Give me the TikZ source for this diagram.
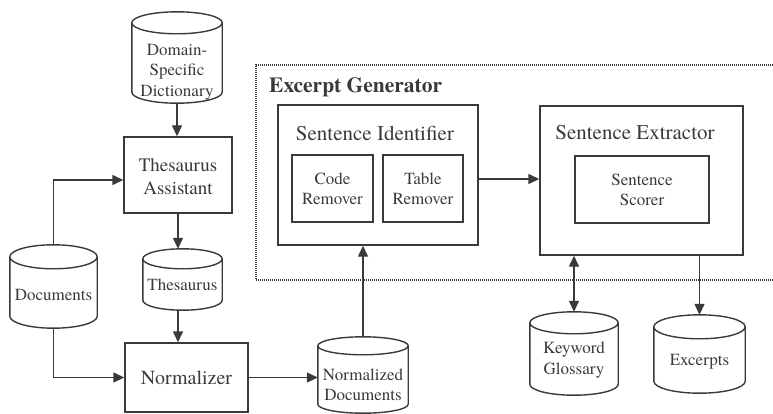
\documentclass[tikz,border=0pt]{standalone}
\usepackage{fontspec}
\setmainfont{TeX Gyre Termes}
\usetikzlibrary{arrows.meta,calc}
\definecolor{ink}{HTML}{3A3A3A}
\newcommand\cylout[2]{%
  \draw[cylline] let \p1=(#1.north west), \p2=(#1.south east), \n1={(\x2-\x1)/2} in
    (\x1,{\y1-#2}) arc[start angle=180,end angle=-180,x radius={\n1*1pt},y radius=#2]
    (\x1,{\y1-#2}) -- (\x1,{\y2+#2}) arc[start angle=180,end angle=360,x radius={\n1*1pt},y radius=#2] -- (\x2,{\y1-#2});}
\begin{document}
\begin{tikzpicture}[x=1pt,y=-1pt,
  box/.style={draw=ink, line width=1.4pt, rectangle, inner sep=0pt},
  hole/.style={rectangle, inner sep=0pt, draw=none},
  cylline/.style={draw=ink, line width=1.4pt},
  txt/.style={text=ink, align=center, font=\fontsize{17}{20.5}\selectfont, inner sep=0pt},
  big/.style={text=ink, align=center, font=\fontsize{19}{23}\selectfont, inner sep=0pt},
  ttl/.style={text=ink, align=center, font=\fontsize{21}{24}\selectfont, inner sep=0pt},
  arr/.style={draw=ink, line width=1.4pt, -{Triangle[length=11pt,width=10pt]}},
  darr/.style={draw=ink, line width=1.4pt, {Triangle[length=11pt,width=10pt]}-{Triangle[length=11pt,width=10pt]}}]
\useasboundingbox (0,0) rectangle (773,414);

% excerpt generator (dotted, open to the right)
\coordinate (egtr) at (773,65);
\coordinate (egbr) at (773,280);
\draw[draw=ink, line width=2pt, dash pattern=on 1pt off 1pt] (egtr) -- (256,65) -- (256,280) -- (egbr);
\node[text=ink, font=\fontsize{21.5}{24}\selectfont\bfseries, anchor=west, inner sep=0pt] (egT) at (269,87) {Excerpt Generator};

% boxes
\node[box, minimum width=108pt, minimum height=76pt] (tass) at (178,175) {};
\node[big] (tassT) at (178,176.5) {Thesaurus\\Assistant};
\node[box, minimum width=123pt, minimum height=69pt] (norm) at (186.5,377.5) {};
\node[big, font=\fontsize{20}{23}\selectfont] (normT) at (186.5,378) {Normalizer};

\node[box, minimum width=200pt, minimum height=140pt] (sid) at (378,175) {};
\node[ttl] (sidT) at (375,133) {Sentence Identifier};
\node[box, minimum width=81pt, minimum height=67pt] (code) at (332.5,188.5) {};
\node[txt] (codeT) at (332.5,189) {Code\\Remover};
\node[box, minimum width=80pt, minimum height=67pt] (table) at (423,188.5) {};
\node[txt] (tableT) at (423,189) {Table\\Remover};

\node[box, minimum width=203pt, minimum height=149pt] (sext) at (641.5,180.5) {};
\node[ttl] (sextT) at (635,133) {Sentence Extractor};
\node[box, minimum width=134pt, minimum height=67pt] (scor) at (642,189.5) {};
\node[txt] (scorT) at (642,190) {Sentence\\Scorer};

% cylinders
\node[hole, minimum width=90pt, minimum height=91pt] (dict) at (177,57.5) {};
\cylout{dict}{11pt}
\node[txt] (dictT) at (177,72) {Domain-\\Specific\\Dictionary};

\node[hole, minimum width=87pt, minimum height=83pt] (docs) at (53.5,286.5) {};
\cylout{docs}{12pt}
\node[txt] (docsT) at (53.5,295) {Documents};

\node[hole, minimum width=79pt, minimum height=61pt] (thes) at (182.5,279.5) {};
\cylout{thes}{10pt}
\node[txt] (thesT) at (182.5,285) {Thesaurus};

\node[hole, minimum width=90pt, minimum height=76pt] (ndoc) at (363,375) {};
\cylout{ndoc}{9pt}
\node[txt] (ndocT) at (363,385) {Normalized\\Documents};

\node[hole, minimum width=88pt, minimum height=83pt] (kw) at (574,353.5) {};
\cylout{kw}{11pt}
\node[txt] (kwT) at (574,360) {Keyword\\Glossary};

\node[hole, minimum width=91pt, minimum height=78pt] (exc) at (699.5,354) {};
\cylout{exc}{12pt}
\node[txt] (excT) at (699.5,362) {Excerpts};

% connectors
\draw[arr] (dict.south) -- (dict.south |- tass.north);
\draw[arr] (docs.north) |- ([yshift=-5pt]tass.west);
\draw[arr] (tass.south) -- (tass.south |- thes.north);
\draw[arr] (tass.south |- thes.south) -- (tass.south |- norm.north);
\draw[arr] (docs.south) |- (norm.west);
\draw[arr] (norm.east) -- (norm.east -| ndoc.west);
\draw[arr] (ndoc.north) -- (ndoc.north |- sid.south);
\draw[arr] ([yshift=-4pt]sid.east) -- ([yshift=-4pt]sid.east -| sext.west);
\draw[darr] (kw.north |- sext.south) -- (kw.north);
\draw[arr] (exc.north |- sext.south) -- (exc.north);
\end{tikzpicture}
\end{document}
